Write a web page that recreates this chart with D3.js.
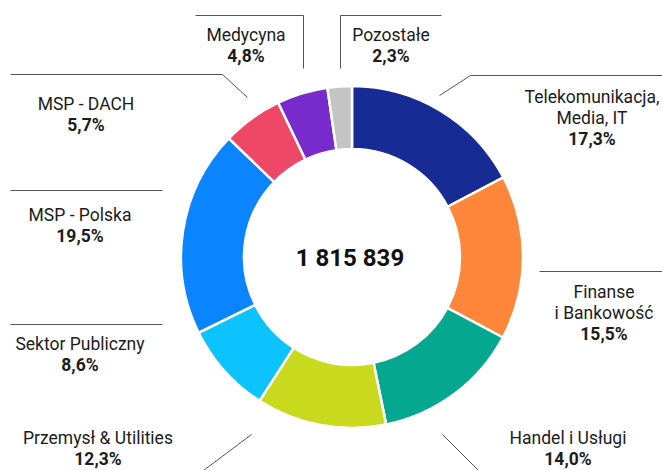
<!DOCTYPE html>
<html>
<head>
<meta charset="utf-8">
<script src="https://cdn.jsdelivr.net/npm/d3@7"></script>
<style>
  body { margin: 0; background: #fff; }
  #canvas { width: 662px; height: 470px; }
</style>
</head>
<body>
<div id="canvas"></div>
<script>
// data
const sectors = ['Telekomunikacja,|Media, IT', 'Finanse|i Bankowość', 'Handel i Usługi', 'Przemysł & Utilities',
  'Sektor Publiczny', 'MSP - Polska', 'MSP - DACH', 'Medycyna', 'Pozostałe'];
const shares = [17.3, 15.5, 14.0, 12.3, 8.6, 19.5, 5.7, 4.8, 2.3];
const total = 1815839;
const colors = ['#172b94', '#ff873b', '#05a88e', '#c9d91e', '#0cc3ff', '#0a85ff', '#ef4867', '#772bcc', '#c4c4c4'];

// label layout: text anchor point and leader line (px)
const labelPos = [[592, 103], [604, 298], [568, 444], [98, 444], [80, 350], [80, 221], [86, 110], [246, 41], [391, 41]];
const leaders = [
  [[439, 95], [470, 75], [662, 75]],
  [[539, 271], [662, 271]],
  [[442, 434], [490, 482]],
  [[251, 434], [203, 470]],
  [[10, 324], [162, 324]],
  [[10, 190], [162, 190]],
  [[247, 97], [222, 74], [10, 74]],
  [[303, 68], [303, 15], [195, 15]],
  [[340, 68], [340, 15], [441, 15]]
];

const pl = d3.formatLocale({decimal: ',', thousands: ' ', grouping: [3], currency: ['', ' zł']});
const fmtPct = pl.format('.1f');
const fmtNum = pl.format(',d');

const width = 662, height = 470;
const cx = 352, cy = 257;

const svg = d3.select('#canvas')
  .append('svg')
  .attr('width', width)
  .attr('height', height)
  .style('font-family', 'Roboto, sans-serif');

const pie = d3.pie().sort(null).value((d) => d);
const arc = d3.arc().innerRadius(108).outerRadius(171);

svg.append('g')
  .attr('transform', `translate(${cx},${cy})`)
  .selectAll('path')
  .data(pie(shares))
  .join('path')
  .attr('d', arc)
  .attr('fill', (d, i) => colors[i])
  .attr('stroke', '#fff')
  .attr('stroke-width', 2.5);

svg.append('text')
  .attr('x', cx - 2)
  .attr('y', cy + 9)
  .attr('text-anchor', 'middle')
  .attr('font-size', '24px')
  .attr('font-weight', 700)
  .attr('fill', '#111')
  .text(fmtNum(total));

const line = d3.line();
svg.selectAll('.leader')
  .data(leaders)
  .join('path')
  .attr('class', 'leader')
  .attr('d', (d) => line(d.map((p) => [p[0] + 0.5, p[1] + 0.5])))
  .attr('fill', 'none')
  .attr('stroke', '#555')
  .attr('stroke-width', 1);

const labels = svg.selectAll('.label')
  .data(sectors)
  .join('text')
  .attr('class', 'label')
  .attr('text-anchor', 'middle')
  .attr('font-size', '17.5px')
  .attr('fill', '#1c1c1c');

labels.each(function(name, i) {
  const t = d3.select(this);
  const parts = name.split('|');
  parts.forEach((p, j) => {
    t.append('tspan')
      .attr('x', labelPos[i][0])
      .attr('y', labelPos[i][1] + j * 21)
      .text(p);
  });
  t.append('tspan')
    .attr('x', labelPos[i][0])
    .attr('y', labelPos[i][1] + parts.length * 21)
    .attr('font-weight', 700)
    .text(fmtPct(shares[i]) + '%');
});
</script>
</body>
</html>
